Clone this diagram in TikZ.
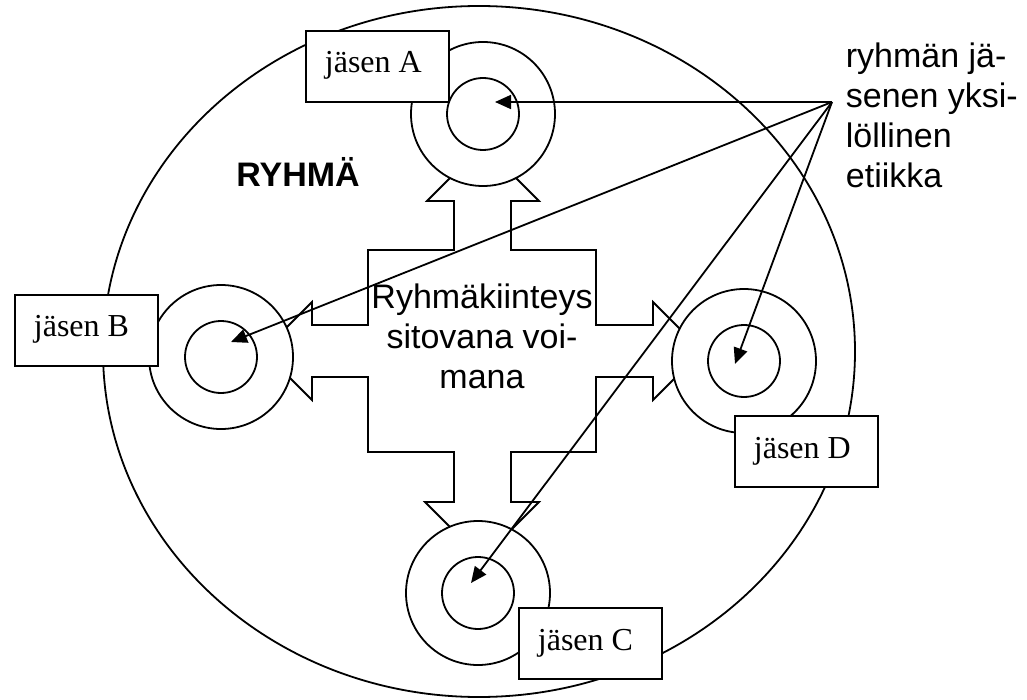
\documentclass[tikz,border=0pt]{standalone}
\usepackage{fontspec}
\setmainfont{Liberation Sans}
\newfontfamily\boxfont{Liberation Serif}
\usetikzlibrary{arrows.meta}

\begin{document}
\begin{tikzpicture}[x=1pt,y=-1pt,
  line width=1.8pt,
  ring/.style={circle,draw,fill=white,inner sep=0pt,minimum size=144pt},
  core/.style={circle,draw,fill=white,inner sep=0pt,minimum size=72pt},
  member/.style={draw,fill=white,minimum width=143pt,minimum height=71pt,inner sep=0pt,anchor=north west},
  memberlabel/.style={font=\boxfont\fontsize{32}{36}\selectfont,anchor=base west,inner sep=0pt},
  pointer/.style={-{Triangle[length=16pt,width=14pt]}},
  sans/.style={font=\fontsize{34}{40}\selectfont,inner sep=0pt}
]
\useasboundingbox (0,0) rectangle (1027,700);

% the group
\draw (479,351.5) ellipse [x radius=376, y radius=345.5];

% cohesion: cross with four arrow heads pointing at the members
\draw[fill=white,line join=miter]
  (454,250) -- (454,201) -- (427,201) -- (483,145) -- (539,201) -- (511,201) -- (511,250)
  -- (596,250) -- (596,325) -- (653,325) -- (653,302) -- (702,351) -- (653,400) -- (653,377) -- (596,377)
  -- (596,452) -- (511,452) -- (511,502) -- (539,502) -- (482,559) -- (425,502) -- (454,502) -- (454,452)
  -- (368,452) -- (368,377) -- (312,377) -- (312,400) -- (263,351) -- (312,302) -- (312,325) -- (368,325)
  -- (368,250) -- cycle;

% members: outer ring and inner core
\node[ring] (ringA) at (483,114) {};
\node[core] (coreA) at (483,114) {};
\node[ring] (ringB) at (221,357) {};
\node[core] (coreB) at (221,357) {};
\node[ring] (ringD) at (744,361) {};
\node[core] (coreD) at (744,361) {};
\node[ring] (ringC) at (478,593) {};
\node[core] (coreC) at (478,593) {};

% member labels
\node[member] (boxA) at (305,30) {};
\node[memberlabel] (labA) at (324,73) {jäsen A};
\node[member] (boxB) at (14,294) {};
\node[memberlabel] (labB) at (33,336) {jäsen B};
\node[member] (boxD) at (734,415) {};
\node[memberlabel] (labD) at (753,458) {jäsen D};
\node[member] (boxC) at (518,607) {};
\node[memberlabel] (labC) at (537,650) {jäsen C};

% texts
\node[sans,font=\bfseries\fontsize{34}{40}\selectfont,anchor=base] (group) at (298,187) {RYHMÄ};
\node[sans,align=center,anchor=base] (cohesion) at (482,388) {Ryhmäkiinteys\\sitovana voi-\\mana};
\node[sans,align=left,anchor=base west] (ethics) at (845,188) {ryhmän jä-\\senen yksi-\\löllinen\\etiikka};

% pointers from the ethics label to each member's core
\coordinate (src) at (832,102);
\coordinate (tA) at (495,102);
\coordinate (tB) at (231,342);
\coordinate (tD) at (735,364);
\coordinate (tC) at (471,583);
\draw[pointer] (src) -- (tA);
\draw[pointer] (src) -- (tB);
\draw[pointer] (src) -- (tD);
\draw[pointer] (src) -- (tC);
\end{tikzpicture}
\end{document}
